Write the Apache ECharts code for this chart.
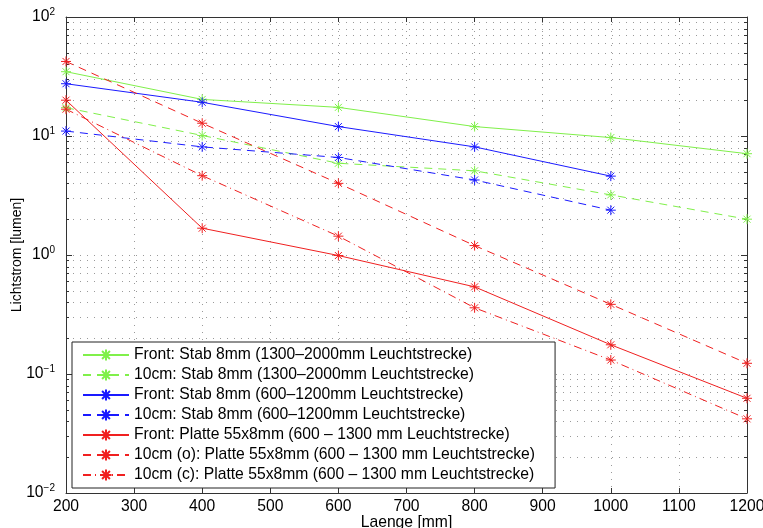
<!DOCTYPE html>
<html><head><meta charset="utf-8">
<script src="https://cdn.jsdelivr.net/npm/echarts@6/dist/echarts.min.js"></script>
<style>html,body{margin:0;padding:0;background:#fff}#c{width:763px;height:528px}</style>
</head><body><div id="c"></div>
<script>
// ---- data ----
const xValues = [200, 400, 600, 800, 1000, 1200];
const xValuesStab600 = [200, 400, 600, 800, 1000];
const frontStab1300 = [34.7, 20.3, 17.4, 12.0, 9.7, 7.1];
const tenStab1300 = [17.3, 10.1, 5.9, 5.1, 3.2, 2.0];
const frontStab600 = [27.5, 19.2, 12.0, 8.1, 4.6];
const tenStab600 = [11.0, 8.1, 6.6, 4.27, 2.38];
const frontPlatte = [20.0, 1.68, 0.99, 0.54, 0.176, 0.0625];
const tenPlatteO = [42.3, 12.8, 4.0, 1.20, 0.385, 0.123];
const tenPlatteC = [16.8, 4.64, 1.44, 0.36, 0.131, 0.042];
const seriesNames = [
  'Front: Stab 8mm (1300\u20132000mm Leuchtstrecke)',
  '10cm: Stab 8mm (1300\u20132000mm Leuchtstrecke)',
  'Front: Stab 8mm (600\u20131200mm Leuchtstrecke)',
  '10cm: Stab 8mm (600\u20131200mm Leuchtstrecke)',
  'Front: Platte 55x8mm (600 \u2013 1300 mm Leuchtstrecke)',
  '10cm (o): Platte 55x8mm (600 \u2013 1300 mm Leuchtstrecke)',
  '10cm (c): Platte 55x8mm (600 \u2013 1300 mm Leuchtstrecke)'
];
const xMin = 200, xMax = 1200, xInterval = 100;
const yMin = 0.01, yMax = 100;
const yDecades = [0.01, 0.1, 1, 10];
const yMinorMultiples = [2, 3, 4, 5, 6, 7, 8, 9];
const xName = 'Laenge [mm]';
const yName = 'Lichtstrom [lumen]';

// ---- styling ----
const F = '"Liberation Sans", Arial, Helvetica, sans-serif';
const GREEN = '#80f04a', BLUE = '#1a1aff', RED = '#f02020';
const AX = '#333';
const GRID = '#9a9a9a';
const FS = 15.7;
const STAR = 'path://M5,0L5,10M0,5L10,5M1.5,1.5L8.5,8.5M1.5,8.5L8.5,1.5';

function pairs(xs, ys) { return xs.map((x, i) => [x, ys[i]]); }
function mkSeries(name, xs, ys, color, dash) {
  return {
    type: 'line', name: name, data: pairs(xs, ys),
    symbol: STAR, symbolSize: 10, showSymbol: true, z: 3,
    lineStyle: { color: color, width: 1, type: dash },
    itemStyle: { color: color, borderColor: color, borderWidth: 1 },
    emphasis: { disabled: true }
  };
}
const minorValues = [];
yDecades.forEach(d => yMinorMultiples.forEach(m => minorValues.push(d * m)));

const chart = echarts.init(document.getElementById('c'), null, { renderer: 'canvas' });
const option = {
  animation: false,
  backgroundColor: '#fff',
  grid: { left: 66, right: 16, top: 17, bottom: 35, containLabel: false, outerBoundsMode: 'none' },
  legend: {
    orient: 'vertical', left: 72, top: 342, data: seriesNames,
    itemWidth: 46, itemHeight: 14, itemGap: 4,
    padding: [5, 20, 5, 10],
    backgroundColor: '#fff', borderColor: '#222', borderWidth: 1, borderRadius: 0,
    textStyle: { fontFamily: F, fontSize: FS, color: '#000', lineHeight: 14 },
    selectedMode: false, z: 10
  },
  xAxis: [{
    type: 'value', position: 'bottom', min: xMin, max: xMax, interval: xInterval,
    name: xName, nameLocation: 'middle', nameGap: 22, nameMoveOverlap: false,
    nameTextStyle: { fontFamily: F, fontSize: FS, color: '#000' },
    axisLine: { show: true, onZero: false, lineStyle: { color: AX, width: 1 } },
    axisTick: { show: true, inside: true, length: 5, lineStyle: { color: AX } },
    axisLabel: { fontFamily: F, fontSize: FS, color: '#000', margin: 6, formatter: v => String(v) },
    splitLine: { show: true, lineStyle: { color: GRID, width: 1, type: [1, 6] } }
  }, {
    type: 'value', position: 'top', min: xMin, max: xMax, interval: xInterval,
    axisLine: { show: true, onZero: false, lineStyle: { color: AX, width: 1 } },
    axisTick: { show: true, inside: true, length: 5, lineStyle: { color: AX } },
    axisLabel: { show: false }, splitLine: { show: false }
  }],
  yAxis: [{
    type: 'log', logBase: 10, position: 'left', min: yMin, max: yMax, splitNumber: 4,
    name: yName, nameLocation: 'middle', nameGap: 42, nameMoveOverlap: false,
    nameTextStyle: { fontFamily: F, fontSize: 14, color: '#000' },
    axisLine: { show: true, onZero: false, lineStyle: { color: AX, width: 1 } },
    axisTick: { show: true, inside: true, length: 6, lineStyle: { color: AX } },
    axisLabel: {
      margin: 11, color: '#000',
      formatter: function (v) {
        const e = Math.round(Math.log10(v));
        return '{b|10}{s|' + (e < 0 ? '\u2212' + (-e) : e) + '}';
      },
      rich: {
        b: { fontFamily: F, fontSize: FS, color: '#000', lineHeight: 20 },
        s: { fontFamily: F, fontSize: 10, color: '#000', lineHeight: 20, verticalAlign: 'top' }
      }
    },
    splitLine: { show: true, lineStyle: { color: GRID, width: 1, type: [1, 6] } }
  }, {
    type: 'log', logBase: 10, position: 'right', min: yMin, max: yMax, splitNumber: 4,
    axisLine: { show: true, onZero: false, lineStyle: { color: AX, width: 1 } },
    axisTick: { show: true, inside: true, length: 6, lineStyle: { color: AX } },
    axisLabel: { show: false }, splitLine: { show: false }
  }],
  series: [
    {
      type: 'custom', name: '_minor', silent: true, z: 1, clip: false,
      xAxisIndex: 0, yAxisIndex: 0,
      data: minorValues.map(v => [xMin, v]),
      renderItem: function (params, api) {
        const v = api.value(1);
        const a = api.coord([xMin, v]), b = api.coord([xMax, v]);
        const y = Math.round(a[1]) + 0.5;
        return {
          type: 'group', children: [
            { type: 'line', shape: { x1: a[0], y1: y, x2: b[0], y2: y }, style: { stroke: GRID, lineWidth: 1, lineDash: [1, 6] } },
            { type: 'line', shape: { x1: a[0], y1: y, x2: a[0] + 3, y2: y }, style: { stroke: AX, lineWidth: 1 } },
            { type: 'line', shape: { x1: b[0] - 3, y1: y, x2: b[0], y2: y }, style: { stroke: AX, lineWidth: 1 } }
          ]
        };
      }
    },
    mkSeries(seriesNames[0], xValues, frontStab1300, GREEN, 'solid'),
    mkSeries(seriesNames[1], xValues, tenStab1300, GREEN, [8, 6]),
    mkSeries(seriesNames[2], xValuesStab600, frontStab600, BLUE, 'solid'),
    mkSeries(seriesNames[3], xValuesStab600, tenStab600, BLUE, [8, 6]),
    mkSeries(seriesNames[4], xValues, frontPlatte, RED, 'solid'),
    mkSeries(seriesNames[5], xValues, tenPlatteO, RED, [8, 6]),
    mkSeries(seriesNames[6], xValues, tenPlatteC, RED, [8, 4, 1, 4])
  ]
};
chart.setOption(option);
</script>
</body></html>
